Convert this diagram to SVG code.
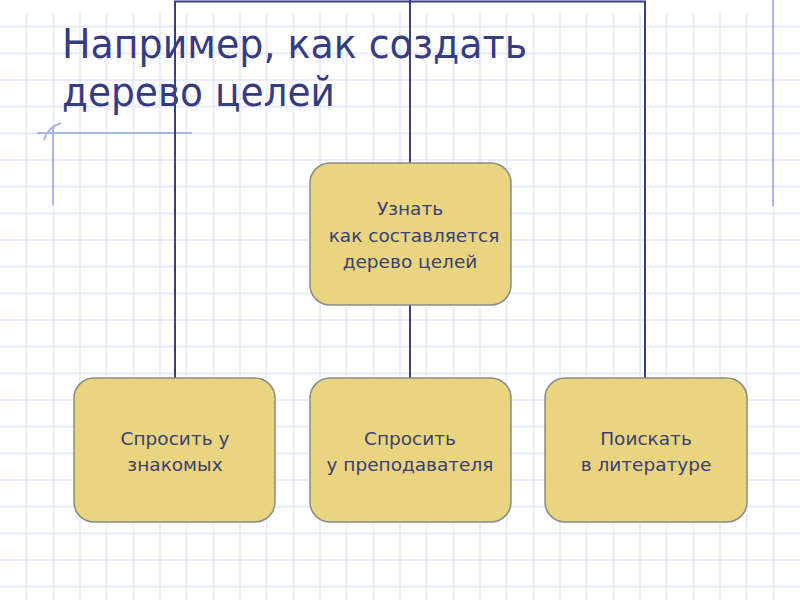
<svg xmlns="http://www.w3.org/2000/svg" width="800" height="600" viewBox="0 0 800 600">
<style>
.grid{stroke:#e4e9fb;stroke-width:1.6;fill:none}
.deco{stroke:#aab5ec;stroke-width:2;fill:none}
.conn{stroke:#383e88;stroke-width:2;fill:none}
.box{fill:#e9d47f;stroke:#8a8a8a;stroke-width:1.5}
.lbl{font-family:"DejaVu Sans",Verdana,sans-serif;font-size:18.5px;fill:#3c4070;text-anchor:middle}
.title{font-family:"DejaVu Sans",Verdana,sans-serif;font-size:41px;fill:#363c82}
</style>
<rect width="800" height="600" fill="#ffffff"/>
<path class="grid" d="M26.67 13V600M53.33 13V600M80 13V600M106.67 13V600M133.33 13V600M160 13V600M186.67 13V600M213.33 13V600M240 13V600M266.67 13V600M293.33 13V600M320 13V600M346.67 13V600M373.33 13V600M400 13V600M426.67 13V600M453.33 13V600M480 13V600M506.67 13V600M533.33 13V600M560 13V600M586.67 13V600M613.33 13V600M640 13V600M666.67 13V600M693.33 13V600M720 13V600M746.67 13V600M773.33 13V600
M0 26.67H800M0 53.33H800M0 80H800M0 106.67H800M0 133.33H800M0 160H800M0 186.67H800M0 213.33H800M0 240H800M0 266.67H800M0 293.33H800M0 320H800M0 346.67H800M0 373.33H800M0 400H800M0 426.67H800M0 453.33H800M0 480H800M0 506.67H800M0 533.33H800M0 560H800M0 586.67H800"/>
<path class="deco" d="M773 0V206M37 133H192M53 128V205M44 140Q48 127 61 123"/>
<text class="title"><tspan x="62" y="58" textLength="465" lengthAdjust="spacingAndGlyphs">Например, как создать</tspan><tspan x="62" y="106" textLength="273" lengthAdjust="spacingAndGlyphs">дерево целей</tspan></text>
<g id="connectors">
<path class="conn" d="M175 378V1.5H645V378"/>
<path class="conn" d="M410 0V163"/>
<path class="conn" d="M410 305V378"/>
</g>
<g id="n-root">
<rect class="box" x="310" y="163" width="201" height="142" rx="20"/>
<text class="lbl"><tspan x="410" y="215">Узнать</tspan><tspan x="414" y="242">как составляется</tspan><tspan x="410" y="268">дерево целей</tspan></text>
</g>
<g id="n-friends">
<rect class="box" x="74" y="378" width="201" height="144" rx="20"/>
<text class="lbl"><tspan x="175" y="445">Спросить у</tspan><tspan x="175" y="471">знакомых</tspan></text>
</g>
<g id="n-teacher">
<rect class="box" x="310" y="378" width="201" height="144" rx="20"/>
<text class="lbl"><tspan x="410" y="445">Спросить</tspan><tspan x="410" y="471">у преподавателя</tspan></text>
</g>
<g id="n-books">
<rect class="box" x="545" y="378" width="202" height="144" rx="20"/>
<text class="lbl"><tspan x="646" y="445">Поискать</tspan><tspan x="646" y="471">в литературе</tspan></text>
</g>
</svg>
